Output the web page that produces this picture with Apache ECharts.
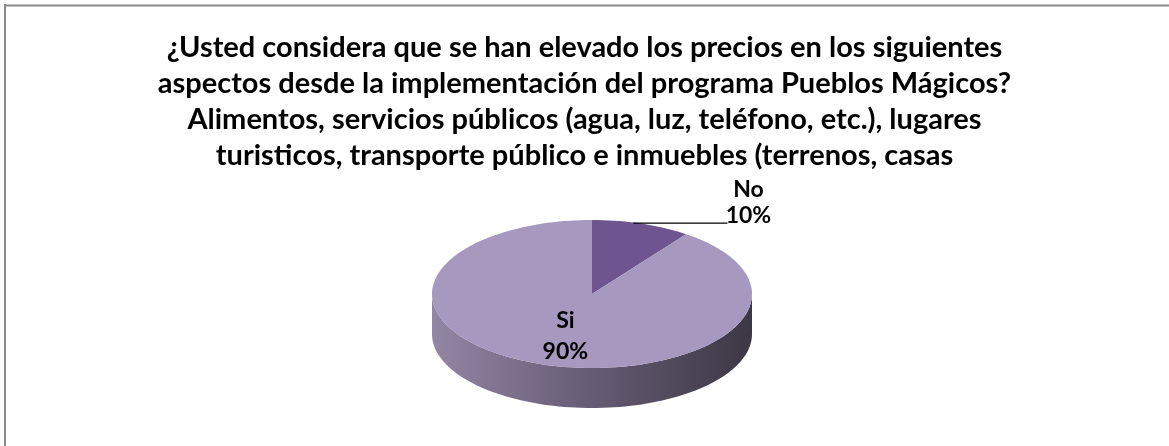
<!DOCTYPE html>
<html><head><meta charset="utf-8">
<script src="https://cdn.jsdelivr.net/npm/echarts@6/dist/echarts.min.js"></script>
<style>html,body{margin:0;padding:0;background:#fff}#main{width:1169px;height:446px}</style>
</head><body><div id="main"></div>
<script>
const titleLines = [
  '¿Usted considera que se han elevado los precios en los siguientes',
  'aspectos desde la implementación del programa Pueblos Mágicos?',
  'Alimentos, servicios públicos (agua, luz, teléfono, etc.), lugares',
  'turisticos, transporte público e inmuebles (terrenos, casas'
];
const categories = ['No', 'Si'];
const values = [10, 90];
const sliceColors = ['#6F5590', '#A698BE'];

const total = values.reduce((a, b) => a + b, 0);
const starts = [];
let acc = 0;
values.forEach(v => { starts.push(acc / total * 360); acc += v; });

const PIE = { cx: 592, cy: 294, rx: 160, ry: 74, depth: 40 };
function pt(deg, s, dy) {
  const r = deg * Math.PI / 180;
  return [PIE.cx + PIE.rx * s * Math.sin(r), PIE.cy - PIE.ry * s * Math.cos(r) + (dy || 0)];
}
function arc(a1, a2, dy) {
  const n = Math.max(2, Math.ceil(Math.abs(a2 - a1) / 2));
  const pts = [];
  for (let i = 0; i <= n; i++) pts.push(pt(a1 + (a2 - a1) * i / n, 1, dy));
  return pts;
}
const sideGradient = {
  type: 'linear', global: true, x: PIE.cx - PIE.rx, y: 0, x2: PIE.cx + PIE.rx, y2: 0,
  colorStops: [
    { offset: 0, color: '#9386a5' },
    { offset: 0.45, color: '#6a5f79' },
    { offset: 1, color: '#3c3744' }
  ]
};
const labelFont = { fontFamily: 'Lato', fontWeight: 'bold', fontSize: 23, fill: '#000' };

function renderItem(params, api) {
  const i = params.dataIndex;
  const v = api.value(0);
  const a1 = starts[i];
  const a2 = a1 + v / total * 360;
  const children = [];
  // side wall (front half only)
  const s1 = Math.max(a1, 90), s2 = Math.min(a2, 270);
  if (s2 > s1) {
    const top = arc(s1, s2, 0);
    const bot = arc(s2, s1, PIE.depth);
    children.push({ type: 'polygon', shape: { points: top.concat(bot) }, style: { fill: sideGradient } });
  }
  // top face
  const face = [[PIE.cx, PIE.cy]].concat(arc(a1, a2, 0));
  children.push({ type: 'polygon', shape: { points: face }, style: { fill: sliceColors[i] } });
  // label
  const mid = (a1 + a2) / 2;
  const pct = Math.round(v / total * 100) + '%';
  const txt = categories[i] + '\n' + pct;
  if (v / total < 0.15) {
    const e = pt(mid, 1, 0);
    const ex = e[0] + 86;
    children.push({ type: 'line', shape: { x1: e[0] - 8, y1: e[1] - 0.5, x2: ex, y2: e[1] - 0.5 }, style: { stroke: '#000', lineWidth: 1.2 } });
    children.push({ type: 'text', style: Object.assign({ text: txt, x: ex + 21, y: e[1] - 21, align: 'center', verticalAlign: 'middle', lineHeight: 26 }, labelFont) });
  } else {
    const c = pt(mid, 0.6, 0);
    children.push({ type: 'text', style: Object.assign({ text: txt, x: c[0] + 3, y: c[1], align: 'center', verticalAlign: 'middle', lineHeight: 31 }, labelFont) });
  }
  return { type: 'group', children: children };
}

const chart = echarts.init(document.getElementById('main'), null, { renderer: 'canvas' });
chart.setOption({
  backgroundColor: '#fff',
  animation: false,
  title: {
    text: titleLines.join('\n'),
    left: 'center',
    top: 30,
    padding: [0, 0, 0, 4],
    textStyle: { fontFamily: 'Lato', fontWeight: 'bold', fontSize: 29, lineHeight: 36, color: '#000' }
  },
  graphic: [
    { type: 'line', shape: { x1: 4, y1: 5.5, x2: 1169, y2: 5.5 }, style: { stroke: '#8a8a8a', lineWidth: 2 } },
    { type: 'line', shape: { x1: 5, y1: 4, x2: 5, y2: 446 }, style: { stroke: '#8a8a8a', lineWidth: 2 } }
  ],
  series: [{
    type: 'custom',
    coordinateSystem: 'none',
    silent: true,
    renderItem: renderItem,
    data: values.map(v => [v])
  }]
});
</script>
</body></html>
